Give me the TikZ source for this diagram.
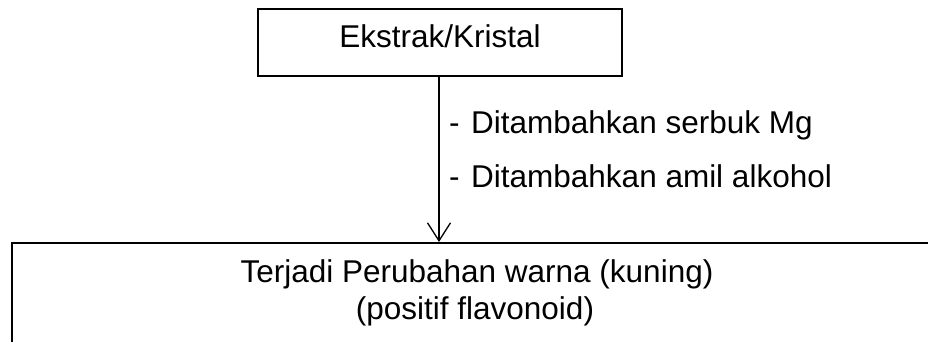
\documentclass[tikz,border=0pt]{standalone}
\usepackage{fontspec}
\setmainfont{Liberation Sans}
\usetikzlibrary{arrows.meta}
\begin{document}
\begin{tikzpicture}[x=1pt,y=-1pt,
  every node/.style={font=\fontsize{31.5}{36}\selectfont, inner sep=0pt},
  stepbox/.style={draw, line width=1.5pt, rectangle},
  flowarrow/.style={line width=1.5pt, -{Straight Barb[length=18pt,width=23pt,line width=1.3pt]}}]
  \clip (0,0) rectangle (928,342);
  \fill[white] (0,0) rectangle (928,342);
  % input box
  \node[stepbox, minimum width=364pt, minimum height=67pt] (top) at (440,42.5) {};
  \node[anchor=base] (toptext) at (440,47.5) {Ekstrak/Kristal};
  % result box, running past the right and bottom edges
  \node[stepbox, minimum width=948pt, minimum height=130pt, anchor=north west] (bot) at (11,242) {};
  \node[anchor=base] (bottext1) at (477,282) {Terjadi Perubahan warna (kuning)};
  \node[anchor=base] (bottext2) at (475,319) {(positif flavonoid)};
  % treatment steps
  \node[anchor=base west] (dash1) at (449,133) {-};
  \node[anchor=base west] (step1) at (471,133) {Ditambahkan serbuk Mg};
  \node[anchor=base west] (dash2) at (449,187) {-};
  \node[anchor=base west] (step2) at (471,187) {Ditambahkan amil alkohol};
  % flow arrow
  \draw[flowarrow] (top.south -| 439,0) -- (439,242);
\end{tikzpicture}
\end{document}
